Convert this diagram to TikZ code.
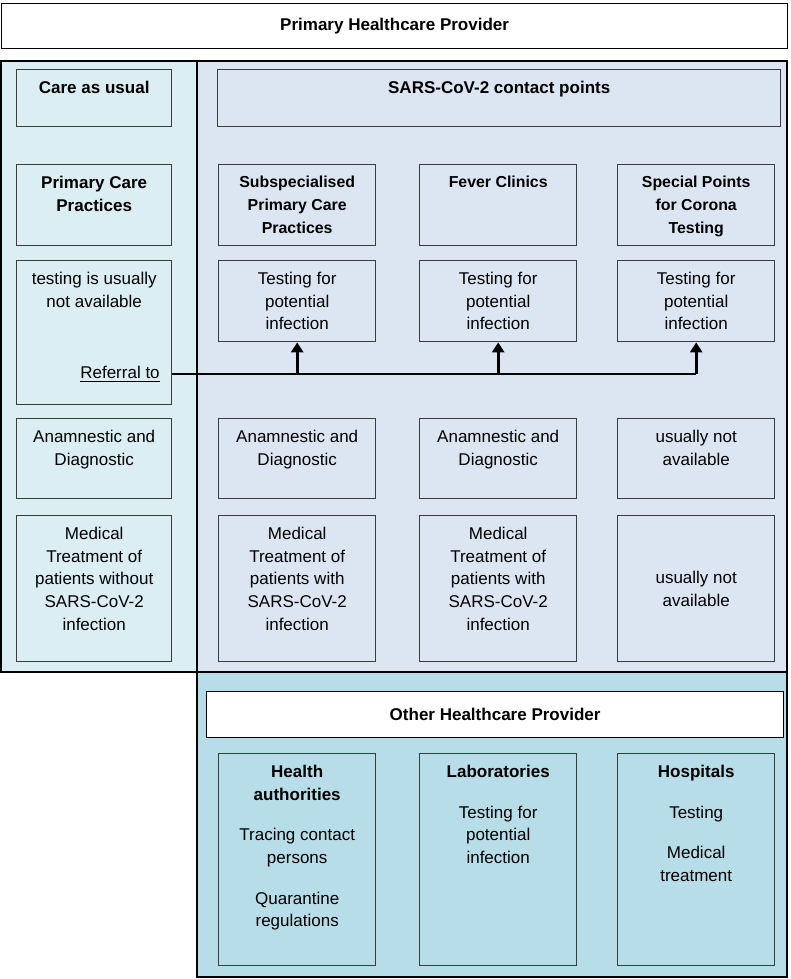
\documentclass[tikz,border=0pt]{standalone}
\usepackage{fontspec}
\setmainfont{Liberation Sans}
\usetikzlibrary{arrows.meta}

\newdimen\px \px=0.025cm
\newcommand{\boxfont}{\fontsize{12.1}{16.1}\selectfont}
\newcommand{\headfont}{\fontsize{11.3}{16.1}\selectfont\bfseries}
\definecolor{paleaqua}{HTML}{DBEEF4}
\definecolor{paleblue}{HTML}{DCE6F2}
\definecolor{aqua}{HTML}{B7DDE8}
\definecolor{edge}{HTML}{3C3C3C}

\begin{document}
\begin{tikzpicture}[x=0.025cm,y=-0.025cm,>={Triangle[width=8.5pt,length=7pt]},font=\boxfont,
    panel/.style={draw=black,line width=0.9pt},
    title/.style={draw=black,fill=white,line width=0.9pt,anchor=north west,inner sep=0pt,font=\boxfont\bfseries},
    cellbox/.style={draw=edge,line width=1pt,anchor=north west,minimum width=157\px,minimum height=#1,inner sep=0pt,align=center},
    toptext/.style={anchor=north,yshift=-12\px,align=center,inner sep=0pt},
    bus/.style={line width=2pt}]
    \useasboundingbox (0,0) rectangle (790,979);

    % panels
    \draw[panel,fill=paleaqua] (1,61) rectangle (197,672);
    \draw[panel,fill=paleblue] (197,61) rectangle (787,672);
    \draw[panel,fill=aqua] (197,672) rectangle (787,977);

    \node[title,minimum width=786\px,minimum height=45\px] (php) at (1,3) {Primary Healthcare Provider};

    % care as usual
    \node[cellbox=57\px,minimum width=155\px] (care) at (16,69) {};
    \node[toptext,font=\boxfont\bfseries] (careT) at (care.north) {Care as usual};
    \node[cellbox=81\px,minimum width=155\px] (pcp) at (16,164) {};
    \node[toptext,font=\boxfont\bfseries] (pcpT) at (pcp.north) {Primary Care\\Practices};
    \node[cellbox=144\px,minimum width=155\px] (lefttest) at (16,260) {};
    \node[toptext] (lefttestT) at (lefttest.north) {testing is usually\\not available};
    \node[anchor=east,inner sep=0pt] (ref) at (160,374) {\underline{Referral to}};
    \node[cellbox=80\px,minimum width=155\px] (leftanam) at (16,418) {};
    \node[toptext] (leftanamT) at (leftanam.north) {Anamnestic and\\Diagnostic};
    \node[cellbox=146\px,minimum width=155\px] (leftmed) at (16,515) {};
    \node[toptext] (leftmedT) at (leftmed.north) {Medical\\Treatment of\\patients without\\SARS-CoV-2\\infection};

    % contact points
    \node[cellbox=57\px,minimum width=563\px] (sars) at (217,69) {};
    \node[toptext,font=\boxfont\bfseries] (sarsT) at (sars.north) {SARS-CoV-2 contact points};
    \foreach \n/\x/\t in {1/218/{Subspecialised\\Primary Care\\Practices},2/419/{Fever Clinics},3/617/{Special Points\\for Corona\\Testing}} {
        \node[cellbox=81\px] (head\n) at (\x,164) {};
        \node[toptext,font=\headfont] (headT\n) at (head\n.north) {\t};
        \node[cellbox=81\px] (tst\n) at (\x,260) {};
        \node[toptext] (tstT\n) at (tst\n.north) {Testing for\\potential\\infection};
    }
    \foreach \n/\x/\t in {1/218/{Anamnestic and\\Diagnostic},2/419/{Anamnestic and\\Diagnostic},3/617/{usually not\\available}} {
        \node[cellbox=80\px] (anam\n) at (\x,418) {};
        \node[toptext] (anamT\n) at (anam\n.north) {\t};
    }
    \foreach \n/\x in {1/218,2/419} {
        \node[cellbox=146\px] (med\n) at (\x,515) {};
        \node[toptext] (medT\n) at (med\n.north) {Medical\\Treatment of\\patients with\\SARS-CoV-2\\infection};
    }
    \node[cellbox=146\px] (med3) at (617,515) {usually not\\available};

    % referral arrows
    \draw[bus] (ref.east -| lefttest.east) -- (ref.east -| tst3.south);
    \foreach \n in {1,2,3}
        \draw[bus,->] (ref.east -| tst\n.south) -- (tst\n.south);

    % other provider
    \node[title,minimum width=577\px,minimum height=46\px] (ohp) at (206,691) {Other Healthcare Provider};
    \foreach \n/\x/\t in {1/218/{\textbf{Health}\\\textbf{authorities}\\[18\px]Tracing contact\\persons\\[18\px]Quarantine\\regulations},
                          2/419/{\textbf{Laboratories}\\[18\px]Testing for\\potential\\infection},
                          3/617/{\textbf{Hospitals}\\[18\px]Testing\\[18\px]Medical\\treatment}} {
        \node[cellbox=212\px] (other\n) at (\x,753) {};
        \node[toptext] (otherT\n) at (other\n.north) {\t};
    }
\end{tikzpicture}
\end{document}
